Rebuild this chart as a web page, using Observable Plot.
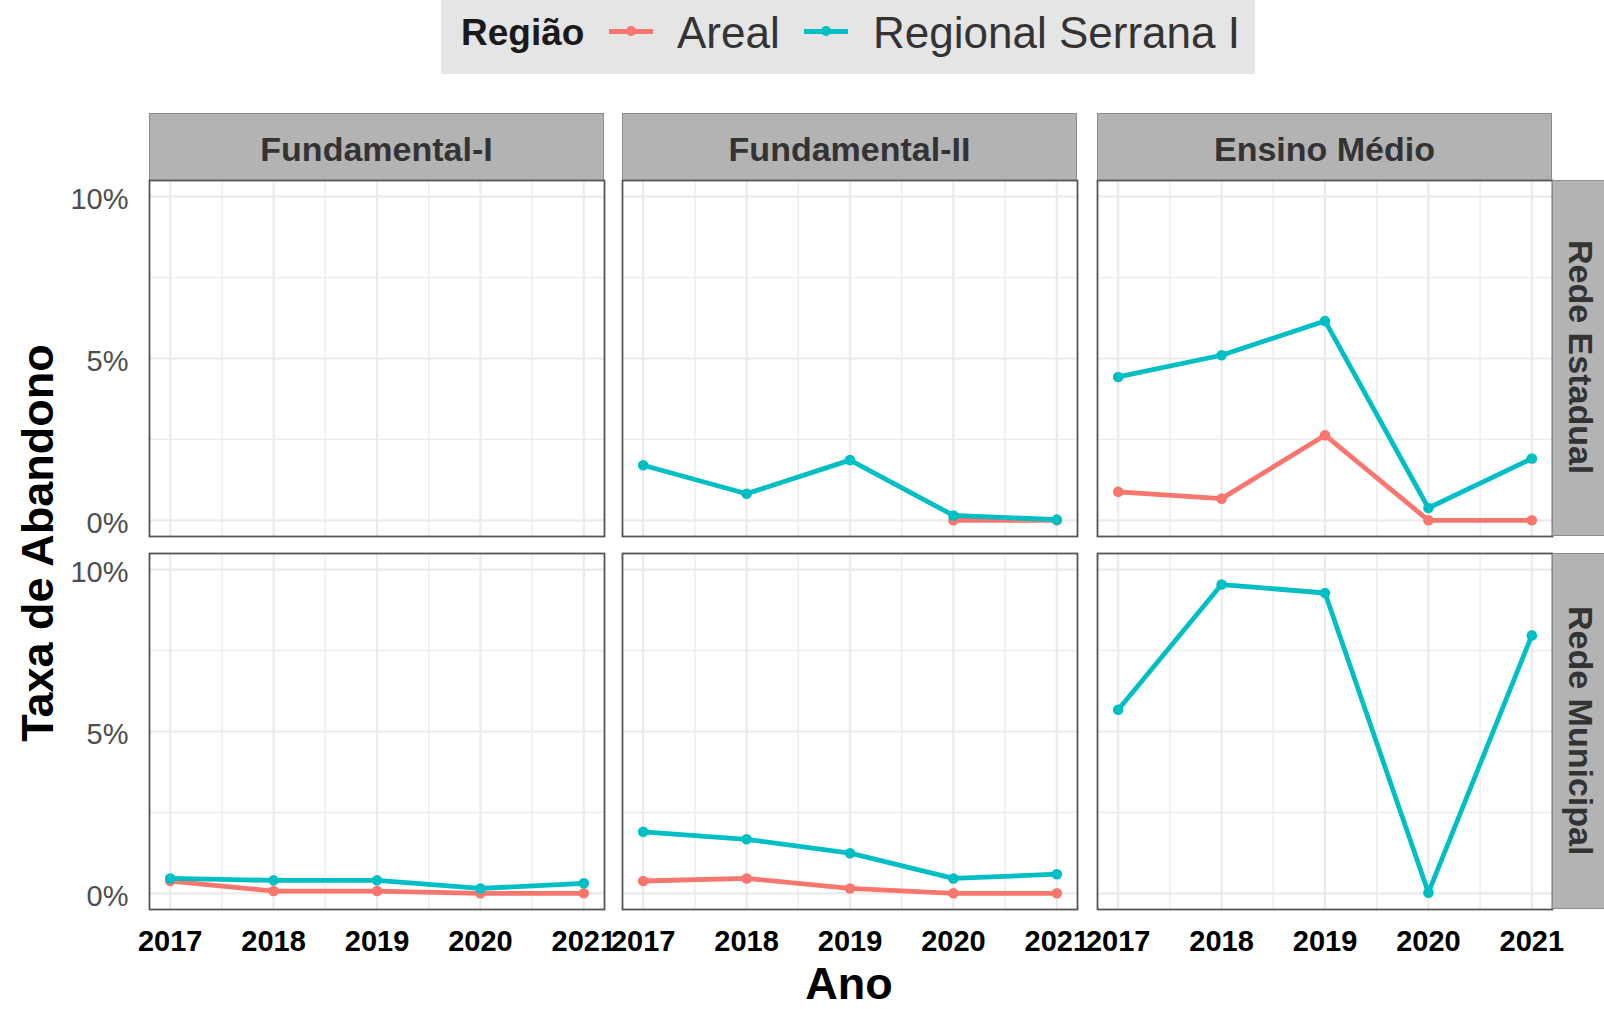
<!DOCTYPE html>
<html>
<head>
<meta charset="utf-8">
<script src="https://cdn.jsdelivr.net/npm/d3@7"></script>
<script src="https://cdn.jsdelivr.net/npm/@observablehq/plot@0.6"></script>
<style>
html, body { margin: 0; padding: 0; background: #fff; }
#root { position: relative; width: 1604px; height: 1009px; overflow: hidden; font-family: "Liberation Sans", Arial, sans-serif; }
.abs { position: absolute; }
.strip-top { position: absolute; background: #B3B3B3; border: 1.5px solid #8C8C8C; box-sizing: border-box; color: #333; font-weight: bold; font-size: 34px; display: flex; align-items: center; justify-content: center; padding-top: 5px; }
.strip-right { position: absolute; background: #B3B3B3; border: 1.5px solid #8C8C8C; box-sizing: border-box; color: #333; font-weight: bold; font-size: 34px; display: flex; align-items: center; justify-content: center; }
.strip-right span { writing-mode: vertical-rl; }
.leg { position: absolute; white-space: nowrap; line-height: 1; }
</style>
</head>
<body>
<div id="root"></div>
<script>
// ---- data ----
const anos = [2017, 2018, 2019, 2020, 2021];
const niveis = ["Fundamental-I", "Fundamental-II", "Ensino Médio"];
const redes = ["Rede Estadual", "Rede Municipal"];
const regioes = ["Areal", "Regional Serrana I"];
const cores = ["#F8766D", "#00BFC4"];
const yTicks = [0, 5, 10];
const yMinor = [2.5, 7.5];
const xMinor = [2017.5, 2018.5, 2019.5, 2020.5];

// taxa de abandono (%), por ano 2017..2021 (null = sem dado)
const estadualFund1Areal   = [null, null, null, null, null];
const estadualFund1Serrana = [null, null, null, null, null];
const estadualFund2Areal   = [null, null, null, 0.0, 0.0];
const estadualFund2Serrana = [1.70, 0.82, 1.86, 0.15, 0.02];
const estadualMedioAreal   = [0.88, 0.67, 2.63, 0.0, 0.0];
const estadualMedioSerrana = [4.43, 5.10, 6.16, 0.38, 1.91];
const municipalFund1Areal   = [0.38, 0.07, 0.07, 0.0, 0.0];
const municipalFund1Serrana = [0.46, 0.40, 0.40, 0.15, 0.31];
const municipalFund2Areal   = [0.38, 0.46, 0.15, 0.0, 0.0];
const municipalFund2Serrana = [1.90, 1.67, 1.24, 0.46, 0.59];
const municipalMedioAreal   = [null, null, null, null, null];
const municipalMedioSerrana = [5.67, 9.54, 9.28, 0.02, 7.97];

const series = [
  ["Rede Estadual", "Fundamental-I", estadualFund1Areal, estadualFund1Serrana],
  ["Rede Estadual", "Fundamental-II", estadualFund2Areal, estadualFund2Serrana],
  ["Rede Estadual", "Ensino Médio", estadualMedioAreal, estadualMedioSerrana],
  ["Rede Municipal", "Fundamental-I", municipalFund1Areal, municipalFund1Serrana],
  ["Rede Municipal", "Fundamental-II", municipalFund2Areal, municipalFund2Serrana],
  ["Rede Municipal", "Ensino Médio", municipalMedioAreal, municipalMedioSerrana]
];

const data = [];
for (const [rede, nivel, areal, serrana] of series) {
  [areal, serrana].forEach((vals, k) => {
    vals.forEach((v, i) => {
      if (v != null) data.push({rede, nivel, regiao: regioes[k], ano: anos[i], taxa: v});
    });
  });
}

// ---- layout ----
const root = document.getElementById("root");
const panelLeft = [149, 622, 1097];
const panelTop = [179.5, 552.7];
const PW = 455, PH = 356;

function panel(r, c) {
  const rede = redes[r], nivel = niveis[c];
  const rows = data.filter(d => d.rede === rede && d.nivel === nivel);
  const ML = c === 0 ? 130 : 0;
  const MB = r === 1 ? 80 : 0;
  const grid = {stroke: "#EBEBEB", strokeOpacity: 1};
  const marks = [
    Plot.gridX(xMinor, {...grid, strokeWidth: 1.3}),
    Plot.gridY(yMinor, {...grid, strokeWidth: 1.3}),
    Plot.gridX(anos, {...grid, strokeWidth: 2.2}),
    Plot.gridY(yTicks, {...grid, strokeWidth: 2.2}),
    Plot.frame({stroke: "#555", strokeWidth: 1.8}),
    Plot.line(rows, {x: "ano", y: "taxa", stroke: "regiao", z: "regiao", strokeWidth: 4.8}),
    Plot.dot(rows, {x: "ano", y: "taxa", fill: "regiao", r: 5.3})
  ];
  if (c === 0) {
    marks.push(Plot.axisY(yTicks, {tickSize: 0, tickPadding: 21, dy: 3, tickFormat: d => d + "%", fontSize: 29, color: "#4D4D4D", label: null}));
  }
  if (r === 1) {
    marks.push(Plot.axisX(anos, {tickSize: 0, tickPadding: 21, tickFormat: d => String(d), fontSize: 29, fontWeight: "bold", color: "#000", label: null}));
  }
  const svg = Plot.plot({
    width: PW + ML,
    height: PH + MB,
    marginLeft: ML, marginRight: 0, marginTop: 0, marginBottom: MB,
    x: {domain: [2016.8, 2021.2], axis: null},
    y: {domain: [-0.5, 10.5], axis: null},
    color: {domain: regioes, range: cores},
    style: {fontFamily: '"Liberation Sans", Arial, sans-serif', background: "transparent", overflow: "visible"},
    marks
  });
  svg.style.position = "absolute";
  svg.style.left = (panelLeft[c] - ML) + "px";
  svg.style.top = panelTop[r] + "px";
  root.appendChild(svg);
}

for (let r = 0; r < 2; r++) for (let c = 0; c < 3; c++) panel(r, c);

// strips (top)
niveis.forEach((n, c) => {
  const d = document.createElement("div");
  d.className = "strip-top";
  d.style.left = panelLeft[c] + "px";
  d.style.top = "113px";
  d.style.width = PW + "px";
  d.style.height = "67px";
  d.textContent = n;
  root.appendChild(d);
});
// strips (right)
redes.forEach((n, r) => {
  const d = document.createElement("div");
  d.className = "strip-right";
  d.style.left = (panelLeft[2] + PW) + "px";
  d.style.top = panelTop[r] + "px";
  d.style.width = "56px";
  d.style.height = PH + "px";
  const s = document.createElement("span");
  s.textContent = n;
  d.appendChild(s);
  root.appendChild(d);
});

// axis titles
const xt = document.createElement("div");
xt.className = "leg";
xt.style.cssText += "left:649px;width:400px;text-align:center;top:960.5px;font-size:45px;line-height:1;font-weight:bold;color:#000;";
xt.textContent = "Ano";
root.appendChild(xt);

const yt = document.createElement("div");
yt.className = "leg";
yt.style.cssText += "left:37px;top:543px;font-size:45px;font-weight:bold;color:#000;transform:translate(-50%,-50%) rotate(-90deg);";
yt.textContent = "Taxa de Abandono";
root.appendChild(yt);

// legend
const lg = document.createElement("div");
lg.className = "abs";
lg.style.cssText = "left:441px;top:0;width:814px;height:74px;background:#E5E5E5;";
root.appendChild(lg);
function addText(txt, left, top, size, weight, color) {
  const s = document.createElement("div");
  s.className = "leg";
  s.style.left = left + "px"; s.style.top = top + "px";
  s.style.fontSize = size + "px"; s.style.fontWeight = weight; s.style.color = color;
  s.textContent = txt;
  lg.appendChild(s);
}
function addKey(left, color) {
  const l = document.createElement("div");
  l.className = "abs";
  l.style.cssText = `left:${left}px;top:28.5px;width:44px;height:5px;background:${color};`;
  lg.appendChild(l);
  const p = document.createElement("div");
  p.className = "abs";
  p.style.cssText = `left:${left + 17}px;top:26px;width:10px;height:10px;border-radius:50%;background:${color};`;
  lg.appendChild(p);
}
addText("Região", 20, 14, 37, "bold", "#1a1a1a");
addKey(168, cores[0]);
addText(regioes[0], 236, 11, 44, "normal", "#333");
addKey(363, cores[1]);
addText(regioes[1], 432, 11, 44, "normal", "#333");
</script>
</body>
</html>
